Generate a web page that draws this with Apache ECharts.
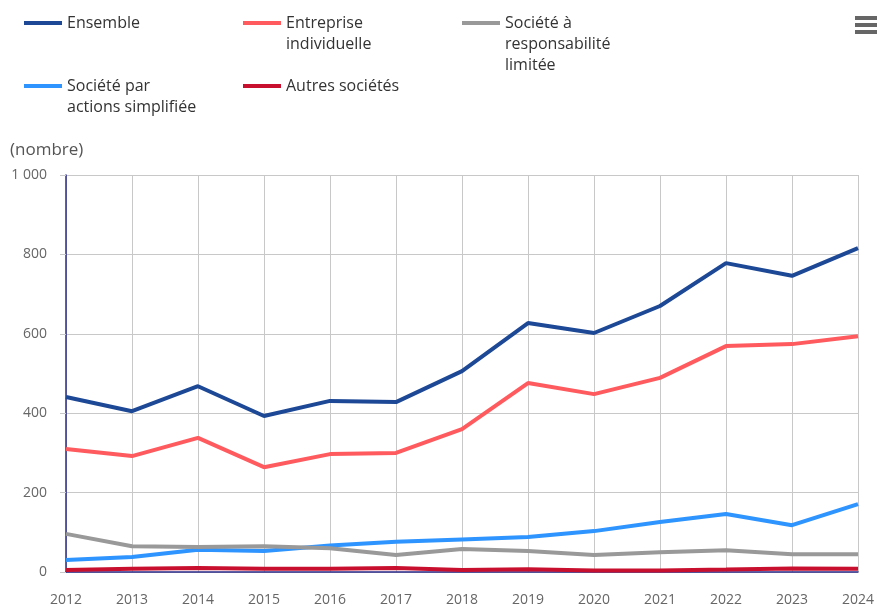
<!DOCTYPE html>
<html><head><meta charset="utf-8">
<script src="https://cdn.jsdelivr.net/npm/echarts@6/dist/echarts.min.js"></script>
<style>html,body{margin:0;padding:0;background:#fff}#c{width:877px;height:608px}</style>
</head><body><div id="c"></div>
<script>
var years = ['2012','2013','2014','2015','2016','2017','2018','2019','2020','2021','2022','2023','2024'];
var ensemble = [441,405,468,393,431,428,506,627,602,670,778,746,816];
var entrepriseIndividuelle = [310,292,338,264,297,300,360,476,448,489,569,574,594];
var sarl = [96,65,63,65,60,43,58,53,43,50,55,45,45];
var sas = [30,38,56,53,67,76,82,88,103,126,146,118,171];
var autres = [5,8,10,8,8,10,5,7,4,4,6,9,8];
var names = ['Ensemble','Entreprise individuelle','Société à responsabilité limitée','Société par actions simplifiée','Autres sociétés'];
var labels = ['Ensemble','Entreprise\nindividuelle','Société à\nresponsabilité\nlimitée','Société par\nactions simplifiée','Autres sociétés'];
var colors = ['#1c4896','#ff5b5f','#999999','#2e94ff','#c8102e'];
var values = [ensemble, entrepriseIndividuelle, sarl, sas, autres];
var legendPos = [[24,23],[243,23],[462,23],[24,86],[243,86]];
var LH = 21;

var chart = echarts.init(document.getElementById('c'));
var legends = names.map(function(n,i){
  var lines = labels[i].split('\n').length;
  var pre = new Array(lines).join('\n');
  return {
    data:[n], left:legendPos[i][0], top:legendPos[i][1] - (2*lines-1)*LH/2, padding:0,
    icon:'rect', itemWidth:38, itemHeight:4, itemGap:0,
    formatter:function(){return pre + labels[i];},
    textStyle:{fontFamily:'Open Sans', fontSize:16, color:'#333', lineHeight:LH}
  };
});
var series = names.map(function(n,i){
  return {name:n, type:'line', data:values[i], symbol:'none', lineStyle:{width:4,color:colors[i]}, itemStyle:{color:colors[i]}, z: 10-i};
});
chart.setOption({
  animation:false,
  legend: legends,
  grid:{left:66,right:14,top:175,bottom:36},
  xAxis:{type:'category', data:years, boundaryGap:false,
    axisLine:{show:true, lineStyle:{color:'#2a2a8a', width:1.5}},
    axisTick:{show:false},
    axisLabel:{color:'#666', fontFamily:'Open Sans', fontSize:14, margin:21},
    splitLine:{show:true, lineStyle:{color:'#c8c8c8', width:1}}},
  yAxis:{type:'value', min:0, max:1000, interval:200,
    axisLine:{show:true, lineStyle:{color:'#2a2a8a', width:1.5}},
    axisTick:{show:true, length:6, lineStyle:{color:'#c8c8c8'}},
    axisLabel:{color:'#666', fontFamily:'Open Sans', fontSize:14, margin:19,
      formatter:function(v){return v>=1000 ? '1 000' : String(v);}},
    splitLine:{show:true, lineStyle:{color:'#c8c8c8', width:1}}},
  graphic:[
    {type:'text', left:10, top:142, style:{text:'(nombre)', font:'17px "Open Sans"', fill:'#555'}},
    {type:'rect', left:855, top:16, shape:{width:22,height:4}, style:{fill:'#666'}},
    {type:'rect', left:855, top:23, shape:{width:22,height:4}, style:{fill:'#666'}},
    {type:'rect', left:855, top:30, shape:{width:22,height:4}, style:{fill:'#666'}}
  ],
  series: series
});
</script></body></html>
